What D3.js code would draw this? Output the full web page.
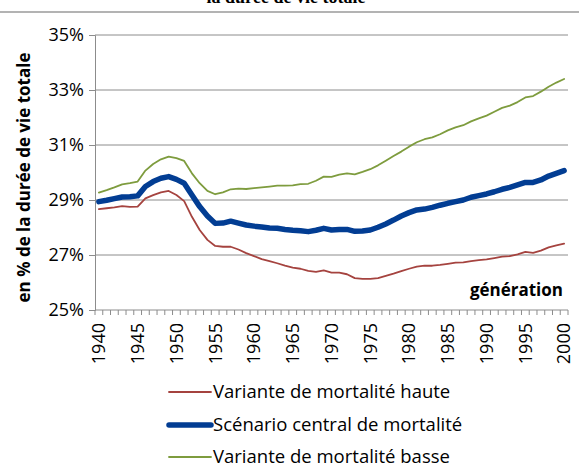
<!DOCTYPE html>
<html>
<head>
<meta charset="utf-8">
<script src="https://cdn.jsdelivr.net/npm/d3@7"></script>
<style>
  html, body { margin: 0; padding: 0; background: #fff; }
  svg { display: block; }
  text { font-family: "Open Sans", Lato, sans-serif; fill: #000; }
</style>
</head>
<body>
<svg id="chart" width="579" height="470"></svg>
<script>
// Generations 1940 to 2000
const years = d3.range(1940, 2001);

// Share of total lifetime (%), by mortality scenario
const haute = [
  28.67, 28.70, 28.73, 28.78, 28.75, 28.76, 29.06, 29.18, 29.28, 29.33,
  29.18, 28.96, 28.39, 27.91, 27.55, 27.33, 27.30, 27.30, 27.20, 27.07,
  26.96, 26.85, 26.78, 26.70, 26.61, 26.54, 26.50, 26.42, 26.39, 26.44,
  26.36, 26.36, 26.30, 26.16, 26.13, 26.13, 26.16, 26.24, 26.32, 26.41,
  26.50, 26.58, 26.61, 26.61, 26.64, 26.68, 26.72, 26.73, 26.78, 26.81,
  26.84, 26.89, 26.94, 26.96, 27.02, 27.11, 27.08, 27.16, 27.28, 27.35,
  27.41
];
const central = [
  28.94, 28.99, 29.05, 29.11, 29.12, 29.15, 29.49, 29.67, 29.79, 29.85,
  29.75, 29.61, 29.18, 28.76, 28.42, 28.15, 28.16, 28.23, 28.16, 28.09,
  28.05, 28.02, 27.98, 27.97, 27.93, 27.90, 27.88, 27.85, 27.90, 27.97,
  27.91, 27.93, 27.93, 27.86, 27.87, 27.91, 28.01, 28.13, 28.27, 28.42,
  28.54, 28.64, 28.67, 28.73, 28.81, 28.88, 28.94, 29.00, 29.10, 29.16,
  29.22, 29.30, 29.39, 29.46, 29.55, 29.64, 29.64, 29.73, 29.87, 29.97,
  30.07
];
const basse = [
  29.27, 29.36, 29.46, 29.57, 29.61, 29.67, 30.07, 30.31, 30.48, 30.58,
  30.52, 30.42, 29.97, 29.61, 29.33, 29.21, 29.28, 29.39, 29.41, 29.40,
  29.43, 29.46, 29.49, 29.52, 29.52, 29.53, 29.58, 29.59, 29.70, 29.85,
  29.84, 29.92, 29.97, 29.93, 30.02, 30.12, 30.26, 30.43, 30.60, 30.76,
  30.94, 31.10, 31.21, 31.28, 31.39, 31.53, 31.64, 31.72, 31.86, 31.97,
  32.07, 32.21, 32.35, 32.43, 32.56, 32.73, 32.78, 32.94, 33.12, 33.27,
  33.40
];

const yTicks = [25, 27, 29, 31, 33, 35];
const xTickLabels = d3.range(1940, 2001, 5);

const seriesNames = [
  "Variante de mortalité haute",
  "Scénario central de mortalité",
  "Variante de mortalité basse"
];
const seriesValues = [haute, central, basse];
const seriesColors = ["#A5433F", "#023D93", "#7E9C3E"];
const seriesWidths = [1.8, 5.5, 1.8];

const svg = d3.select("#chart");

// Plot area
const plotLeft = 95, plotRight = 568, plotTop = 35, plotBottom = 310;

const x = d3.scaleBand().domain(years).range([plotLeft, plotRight]).padding(0);
const xc = d => x(d) + x.bandwidth() / 2;
const y = d3.scaleLinear().domain([25, 35]).range([plotBottom, plotTop]);

// Title (clipped at the top edge) and the rule below it
svg.append("text")
  .attr("x", 286).attr("y", 3)
  .attr("text-anchor", "middle")
  .style("font-family", "'Liberation Serif', serif")
  .style("font-weight", "bold")
  .style("font-size", "18px")
  .text("la durée de vie totale");
svg.append("line")
  .attr("x1", 0).attr("x2", 579).attr("y1", 12).attr("y2", 12)
  .attr("stroke", "#9a9a9a").attr("stroke-width", 1.5);

// Horizontal gridlines
svg.append("g").selectAll("line")
  .data(yTicks.filter(v => v > 25))
  .join("line")
  .attr("x1", plotLeft).attr("x2", plotRight)
  .attr("y1", d => y(d)).attr("y2", d => y(d))
  .attr("stroke", "#8c8c8c").attr("stroke-width", 1);

// Y axis
const yAxis = d3.axisLeft(y).tickValues(yTicks).tickSize(6).tickPadding(5)
  .tickFormat(d => d + "%");
const gy = svg.append("g").attr("transform", `translate(${plotLeft},0)`).call(yAxis);
gy.select(".domain").attr("stroke", "#8c8c8c");
gy.selectAll(".tick line").attr("stroke", "#8c8c8c");
gy.selectAll(".tick text")
  .style("font-family", "'Open Sans', sans-serif").style("font-size", "18px").attr("fill", "#000");

// X axis: labels every five years, small ticks at every category boundary
const xAxis = d3.axisBottom(x).tickValues(xTickLabels).tickSize(0).tickPadding(0);
const gx = svg.append("g").attr("transform", `translate(0,${plotBottom})`).call(xAxis);
gx.select(".domain").attr("stroke", "#8c8c8c").attr("d", `M${plotLeft},0H${plotRight}`);
gx.selectAll(".tick text")
  .style("font-family", "'Open Sans', sans-serif").style("font-size", "18px").attr("fill", "#000")
  .attr("text-anchor", "end")
  .attr("transform", "rotate(-90)")
  .attr("x", -13).attr("y", 0).attr("dy", "0.35em");

const boundaries = years.map(d => x(d)).concat([plotRight]);
svg.append("g").selectAll("line")
  .data(boundaries)
  .join("line")
  .attr("x1", d => d).attr("x2", d => d)
  .attr("y1", plotBottom).attr("y2", plotBottom + 5)
  .attr("stroke", "#8c8c8c").attr("stroke-width", 1);

// Y axis title
svg.append("text")
  .attr("transform", `translate(30,${(plotTop + plotBottom) / 2 + 5}) rotate(-90)`)
  .attr("text-anchor", "middle")
  .style("font-weight", "bold").style("font-size", "17px")
  .text("en % de la durée de vie totale");

// X axis title
svg.append("text")
  .attr("x", 563).attr("y", 296)
  .attr("text-anchor", "end")
  .style("font-weight", "bold").style("font-size", "17px")
  .text("génération");

// Series lines
const line = d3.line().x((d, i) => xc(years[i])).y(d => y(d));
const drawOrder = [0, 2, 1];
drawOrder.forEach(k => {
  svg.append("path")
    .datum(seriesValues[k])
    .attr("d", line)
    .attr("fill", "none")
    .attr("stroke", seriesColors[k])
    .attr("stroke-width", seriesWidths[k])
    .attr("stroke-linejoin", "round")
    .attr("stroke-linecap", "round");
});

// Legend
const legendY = [392, 425, 457];
const lg = svg.append("g");
seriesNames.forEach((name, k) => {
  lg.append("line")
    .attr("x1", 169).attr("x2", 211)
    .attr("y1", legendY[k]).attr("y2", legendY[k])
    .attr("stroke", seriesColors[k])
    .attr("stroke-width", seriesWidths[k])
    .attr("stroke-linecap", "round");
  lg.append("text")
    .attr("x", 213).attr("y", legendY[k]).attr("dy", "0.35em")
    .style("font-size", "18.5px")
    .text(name);
});
</script>
</body>
</html>
